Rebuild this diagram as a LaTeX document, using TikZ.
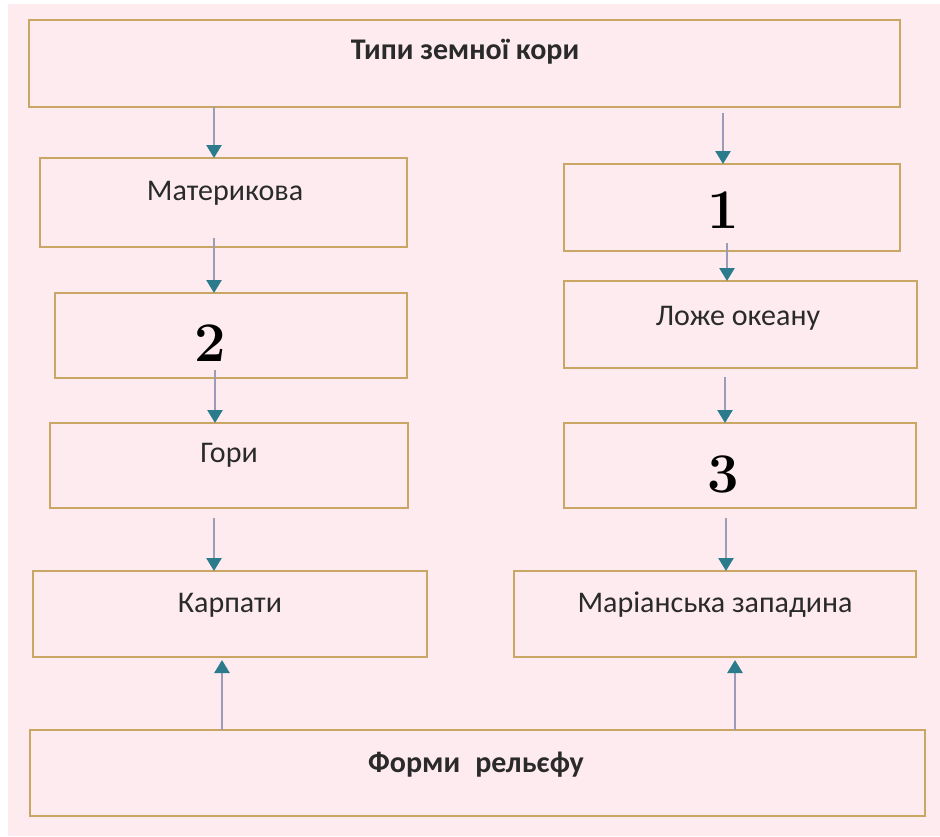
\documentclass[tikz,border=0pt]{standalone}
\usepackage{fontspec}
\setmainfont{Carlito}
\usetikzlibrary{arrows.meta}
\definecolor{bgpink}{HTML}{FDEBF0}
\definecolor{boxc}{HTML}{C9A664}
\definecolor{shaft}{HTML}{9C9CB8}
\definecolor{headc}{HTML}{2B7B8C}
\definecolor{txt}{HTML}{2A2A2A}
\tikzset{
  box/.style={draw=boxc, line width=2.6pt, rectangle, inner sep=0pt, outer sep=0pt, anchor=north west},
  lbl/.style={inner sep=0pt, text=txt, font=\fontsize{30}{34}\selectfont},
  blbl/.style={lbl, font=\fontsize{30}{34}\selectfont\bfseries},
  num/.style={inner sep=0pt, text=black, font=\fontspec{Latin Modern Roman}\fontsize{56}{60}\selectfont\bfseries},
  arr/.style={draw=shaft, line width=2.6pt, -{Triangle[length=13pt,width=15pt,fill=headc,color=headc]}},
}
\begin{document}
\begin{tikzpicture}[x=1pt,y=-1pt]
\useasboundingbox (0,0) rectangle (940,836);
\fill[white] (0,0) rectangle (940,836);
\fill[bgpink] (8,4) rectangle (940,836);

% boxes
\node[box, minimum width=871pt, minimum height=87pt] (top) at (29,20) {};
\node[box, minimum width=367pt, minimum height=89pt] (mat) at (40,158) {};
\node[box, minimum width=336pt, minimum height=87pt] (one) at (564,164) {};
\node[box, minimum width=352pt, minimum height=85pt] (two) at (55,293) {};
\node[box, minimum width=353pt, minimum height=87pt] (lozhe) at (564,281) {};
\node[box, minimum width=358pt, minimum height=85pt] (gory) at (50,423) {};
\node[box, minimum width=352pt, minimum height=85pt] (three) at (564,423) {};
\node[box, minimum width=394pt, minimum height=86pt] (karp) at (33,571) {};
\node[box, minimum width=402pt, minimum height=86pt] (mar) at (514,571) {};
\node[box, minimum width=895pt, minimum height=86pt] (form) at (30,730) {};

% texts
\node[blbl] (ttop) at (465,52) {Типи земної кори};
\node[lbl] (tmat) at (225,193) {Материкова};
\node[num] (tone) at (723,210) {1};
\node[num] (ttwo) at (210,343) {2};
\node[lbl] (tlozhe) at (738,318) {Ложе океану};
\node[lbl] (tgory) at (229,455) {Гори};
\node[num] (tthree) at (723,474) {3};
\node[lbl] (tkarp) at (230,605) {Карпати};
\node[lbl] (tmar) at (715,605) {Маріанська западина};
\node[blbl] (tform) at (476,765) {Форми\enspace рельєфу};

% arrow columns
\coordinate (c1) at (214,0);
\coordinate (c2) at (723,0);
\coordinate (c3) at (214,0);
\coordinate (c4) at (727,0);
\coordinate (c5) at (215,0);
\coordinate (c6) at (725,0);
\coordinate (c7) at (214,0);
\coordinate (c8) at (726,0);
\coordinate (c9) at (222,0);
\coordinate (c10) at (735,0);

\draw[arr] (top.south -| c1) -- (mat.north -| c1);
\draw[arr, shorten <=6pt] (top.south -| c2) -- (one.north -| c2);
\draw[arr, shorten <=-9pt] (mat.south -| c3) -- (two.north -| c3);
\draw[arr, shorten <=-8pt] (one.south -| c4) -- (lozhe.north -| c4);
\draw[arr, shorten <=-8pt] (two.south -| c5) -- (gory.north -| c5);
\draw[arr, shorten <=9pt] (lozhe.south -| c6) -- (three.north -| c6);
\draw[arr, shorten <=10pt] (gory.south -| c7) -- (karp.north -| c7);
\draw[arr, shorten <=10pt] (three.south -| c8) -- (mar.north -| c8);
\draw[arr, shorten >=3pt] (form.north -| c9) -- (karp.south -| c9);
\draw[arr, shorten >=3pt] (form.north -| c10) -- (mar.south -| c10);
\end{tikzpicture}
\end{document}
